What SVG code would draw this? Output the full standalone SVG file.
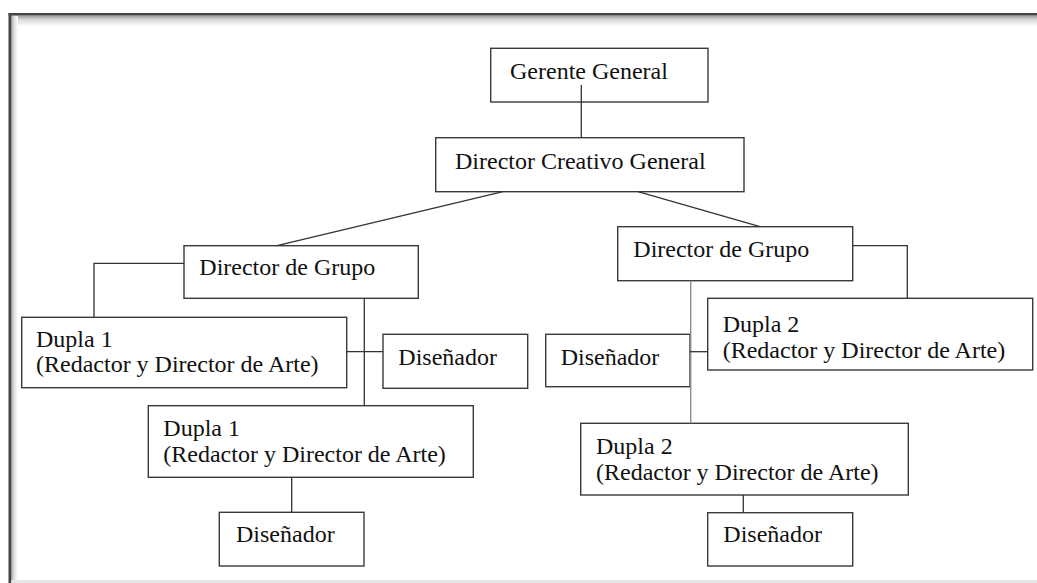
<svg xmlns="http://www.w3.org/2000/svg" width="1037" height="583" viewBox="0 0 1037 583">
<defs>
<linearGradient id="shTop" x1="0" y1="0" x2="0" y2="1">
<stop offset="0" stop-color="#9a9a9a"/>
<stop offset="0.4" stop-color="#dcdcdc"/>
<stop offset="1" stop-color="#ffffff"/>
</linearGradient>
<linearGradient id="shLeft" x1="0" y1="0" x2="1" y2="0">
<stop offset="0" stop-color="#9a9a9a"/>
<stop offset="0.4" stop-color="#dcdcdc"/>
<stop offset="1" stop-color="#ffffff"/>
</linearGradient>
<style>
.box{fill:#fff;stroke:#3a3a3a;stroke-width:1.4}
.t{font-family:"Liberation Serif","Times New Roman",serif;font-size:24px;fill:#111}
.c{stroke:#333;stroke-width:1.3;fill:none}
.cg{stroke:#8c8c8c;stroke-width:1.4;fill:none}
</style>
</defs>
<rect x="0" y="0" width="1037" height="583" fill="#fff"/>
<g id="frame">
<rect x="11" y="15.5" width="1026" height="11" fill="url(#shTop)"/>
<rect x="11" y="15.5" width="7" height="568" fill="url(#shLeft)"/>
<rect x="11" y="580" width="1026" height="3" fill="#e6e6e6"/>
<line x1="8.5" y1="14.3" x2="1037" y2="14.3" stroke="#444" stroke-width="2.4"/>
<line x1="9.8" y1="13.2" x2="9.8" y2="583" stroke="#444" stroke-width="2.6"/>
</g>
<g id="gerente"><rect class="box" x="490.7" y="48.3" width="217.3" height="53.7"/><text class="t" x="510" y="79">Gerente General</text></g>
<g id="director-creativo"><rect class="box" x="435.7" y="137.7" width="308.3" height="54"/><text class="t" x="455" y="169">Director Creativo General</text></g>
<g id="director-grupo-1"><rect class="box" x="184" y="245.7" width="234.3" height="52.6"/><text class="t" x="199.3" y="275">Director de Grupo</text></g>
<g id="director-grupo-2"><rect class="box" x="617.7" y="226.7" width="235" height="54"/><text class="t" x="633.3" y="256.7">Director de Grupo</text></g>
<g id="dupla1-a"><rect class="box" x="21.7" y="317.3" width="325" height="70.4"/><text class="t" x="36" y="346.5">Dupla 1</text><text class="t" x="36" y="372">(Redactor y Director de Arte)</text></g>
<g id="disenador-1a"><rect class="box" x="383" y="334.3" width="144.7" height="54"/><text class="t" x="398.3" y="365">Diseñador</text></g>
<g id="dupla1-b"><rect class="box" x="148.3" y="405.7" width="325" height="71.6"/><text class="t" x="163.3" y="436">Dupla 1</text><text class="t" x="163.3" y="462">(Redactor y Director de Arte)</text></g>
<g id="disenador-1b"><rect class="box" x="219.3" y="512.3" width="144.7" height="53.7"/><text class="t" x="236" y="542.3">Diseñador</text></g>
<g id="disenador-2a"><rect class="box" x="545.7" y="334.3" width="144.3" height="52.4"/><text class="t" x="560.7" y="365">Diseñador</text></g>
<g id="dupla2-a"><rect class="box" x="707.7" y="298.3" width="325" height="71.7"/><text class="t" x="722.7" y="332">Dupla 2</text><text class="t" x="722.7" y="358">(Redactor y Director de Arte)</text></g>
<g id="dupla2-b"><rect class="box" x="580.7" y="423.3" width="327.6" height="71.7"/><text class="t" x="596" y="453.5">Dupla 2</text><text class="t" x="596" y="479.5">(Redactor y Director de Arte)</text></g>
<g id="disenador-2b"><rect class="box" x="707.7" y="512.7" width="145" height="53.3"/><text class="t" x="723.3" y="542.3">Diseñador</text></g>
<g id="connectors">
<line class="c" x1="581.3" y1="85" x2="581.3" y2="137.7"/>
<line class="c" x1="503" y1="191.7" x2="277" y2="245.7"/>
<line class="c" x1="638" y1="191.7" x2="760" y2="226.7"/>
<polyline class="c" points="184,263.3 94,263.3 94,317.3"/>
<line class="c" x1="364.3" y1="298.3" x2="364.3" y2="405.7"/>
<line class="c" x1="346.7" y1="351.7" x2="383" y2="351.7"/>
<line class="c" x1="291.7" y1="477.3" x2="291.7" y2="512.3"/>
<polyline class="c" points="852.7,245.7 907.3,245.7 907.3,298.3"/>
<line class="cg" x1="690.7" y1="280.7" x2="690.7" y2="423.3"/>
<line class="c" x1="690" y1="351.7" x2="707.7" y2="351.7"/>
<line class="c" x1="743.3" y1="495" x2="743.3" y2="512.7"/>
</g>
</svg>
